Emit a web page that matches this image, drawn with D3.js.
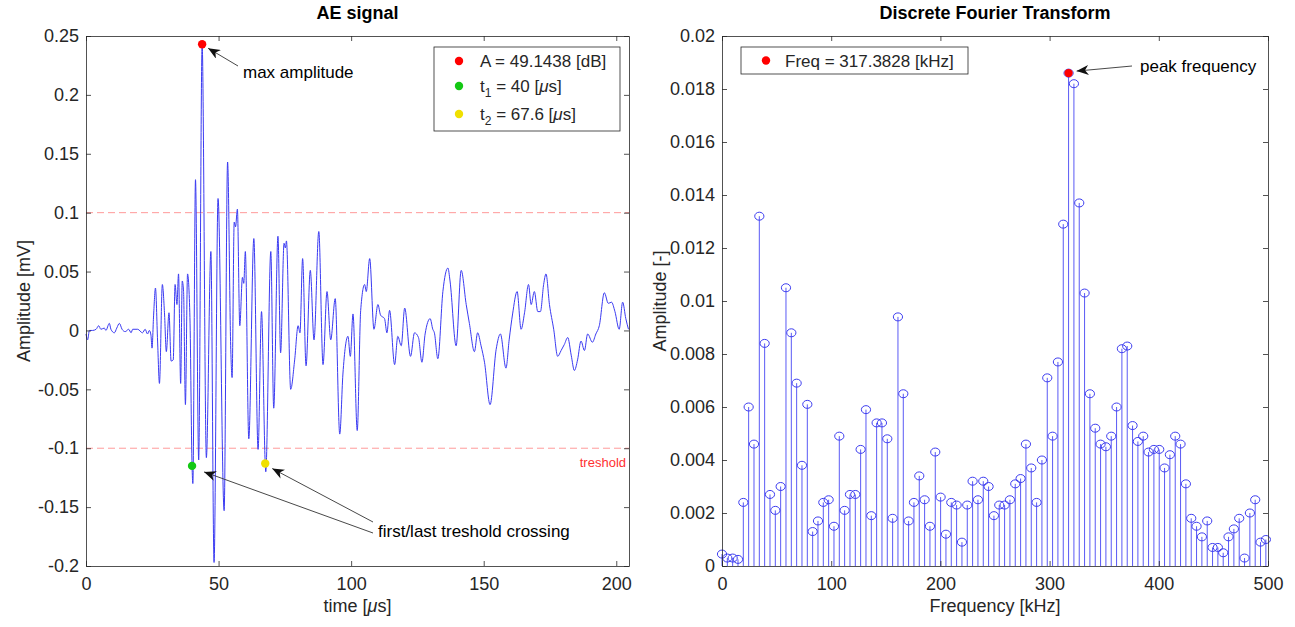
<!DOCTYPE html>
<html>
<head>
<meta charset="utf-8">
<script src="https://d3js.org/d3.v7.min.js"></script>
<style>
  body { margin: 0; background: #fff; }
  svg text { font-family: "Liberation Sans", Arial, Helvetica, sans-serif; fill: #262626; }
</style>
</head>
<body>
<div class="canvas"></div>
<script>
// AE signal (time in us, amplitude in mV)
const aeTime = [0, 0.6, 1.3, 2.5, 3.8, 4.8, 5.6, 6.9, 7.5, 8.8, 9.4, 10.7, 11.6, 12.6, 13.6, 14.8, 16.1, 17, 17.6, 19.5,
  21.3, 22.3, 23.2, 23.9, 24.5, 24.9, 25.5, 26.2, 27, 27.7, 28.8, 29.6, 30.3, 31.3, 32.1, 32.9, 33.6, 34.3, 34.9, 35.7,
  36.3, 36.8, 37.5, 38.3, 39.2, 40, 40.3, 41.3, 42.5, 43.8, 45.4, 47.1, 48.3, 49.8, 52.1, 53.4, 54.6, 55.1, 55.9, 56.4,
  57.1, 58, 59, 59.5, 60.1, 61.4, 63.3, 64.9, 66.2, 67.6, 67.8, 69.7, 70.8, 72.4, 73.4, 74.7, 75.2, 75.6, 77.2, 78.7,
  80, 80.7, 81.7, 83, 84.6, 86, 87.8, 89.4, 90.9, 92.3, 94, 95.7, 96.9, 98.8, 99.7, 100.7, 102.3, 103.6, 105.1, 105.7,
  107, 108.6, 110.1, 111.1, 112.6, 113.5, 114.5, 116.4, 117.6, 118.9, 120.2, 122.4, 123.9, 125.4, 126.7, 127.9, 129.8, 130.8, 131.4, 132.7,
  134.6, 136.5, 137.3, 139.6, 141.5, 143.4, 144.6, 146.5, 147.7, 149, 150.3, 152.4, 154.7, 156.3, 158.4, 159.6, 160.9, 162.6, 164.1, 165.4,
  166.9, 167.9, 169.1, 170.4, 171.4, 172.6, 173.5, 174.8, 176.4, 177.9, 179.2, 180.4, 181.7, 183, 184.2, 185.4, 186.7, 188, 189.2, 191,
  192.3, 193.6, 195.5, 197, 198.2, 199.5, 201.1, 202.4, 203.6, 204.6]
const aeAmp = [-0.003, -0.008, 0, 0, 0.001, 0.004, 0.001, 0.002, 0, 0.006, 0.001, -0.002, 0.002, 0.006, 0.001, -0.001, 0.001, -0.002, 0.001, 0.001,
  -0.002, 0.001, -0.003, 0, -0.004, -0.015, 0.013, 0.036, -0.009, -0.045, 0.039, 0.015, -0.018, 0.015, -0.026, -0.025, 0.039, 0.022, 0.048, -0.045,
  0.042, 0.033, -0.063, 0.048, 0.011, -0.115, -0.13, 0.128, -0.11, 0.243, -0.108, 0.067, -0.197, 0.112, -0.153, 0.143, -0.016, -0.04, 0.092, 0.088,
  0.103, 0.004, 0.045, 0.04, 0.067, -0.092, 0.078, -0.101, 0.016, -0.113, -0.12, 0.067, -0.066, 0.08, -0.019, 0.074, 0.07, 0.076, -0.05, -0.025,
  0.004, -0.002, 0.061, -0.03, 0.051, -0.008, 0.084, -0.029, 0.033, -0.008, 0.027, -0.088, -0.037, -0.005, -0.022, 0.014, -0.085, 0.017, 0.039, 0.033,
  0.061, 0.001, 0.022, 0.013, 0.01, -0.002, 0.017, -0.029, -0.005, -0.013, 0.019, -0.022, -0.002, -0.006, -0.027, -0.003, 0.01, 0.001, -0.002, -0.024,
  0.033, 0.053, 0.042, -0.013, 0.051, 0.022, 0.006, -0.018, -0.002, -0.013, -0.027, -0.063, -0.016, -0.003, -0.032, -0.008, 0.014, 0.033, 0.001, 0.015,
  0.039, 0.022, 0.033, 0.016, 0.016, 0.039, 0.048, 0.022, 0.001, -0.022, -0.017, -0.012, -0.006, -0.021, -0.034, -0.025, -0.009, -0.017, -0.003, -0.01,
  -0.003, 0.004, 0.032, 0.023, 0.024, 0.016, 0.001, 0.024, 0.01, 0.001]

// DFT bins (kHz) and amplitudes
const dftFreq = [0, 4.88, 9.77, 14.65, 19.53, 24.41, 29.3, 34.18, 39.06, 43.95, 48.83, 53.71, 58.59, 63.48, 68.36, 73.24, 78.13, 83.01, 87.89, 92.77,
  97.66, 102.54, 107.42, 112.3, 117.19, 122.07, 126.95, 131.84, 136.72, 141.6, 146.48, 151.37, 156.25, 161.13, 166.02, 170.9, 175.78, 180.66, 185.55, 190.43,
  195.31, 200.2, 205.08, 209.96, 214.84, 219.73, 224.61, 229.49, 234.38, 239.26, 244.14, 249.02, 253.91, 258.79, 263.67, 268.55, 273.44, 278.32, 283.2, 288.09,
  292.97, 297.85, 302.73, 307.62, 312.5, 317.38, 322.27, 327.15, 332.03, 336.91, 341.8, 346.68, 351.56, 356.45, 361.33, 366.21, 371.09, 375.98, 380.86, 385.74,
  390.63, 395.51, 400.39, 405.27, 410.16, 415.04, 419.92, 424.8, 429.69, 434.57, 439.45, 444.34, 449.22, 454.1, 458.98, 463.87, 468.75, 473.63, 478.52, 483.4,
  488.28, 493.16, 498.05]
const dftAmp = [0.00045, 0.0003, 0.0003, 0.00025, 0.0024, 0.006, 0.0046, 0.0132, 0.0084, 0.0027, 0.0021, 0.003, 0.0105, 0.0088, 0.0069, 0.0038, 0.0061, 0.0013, 0.0017, 0.0024,
  0.0025, 0.0015, 0.0049, 0.0021, 0.0027, 0.0027, 0.0044, 0.0059, 0.0019, 0.0054, 0.0054, 0.0048, 0.0018, 0.0094, 0.0065, 0.0017, 0.0024, 0.0034, 0.0025, 0.0015,
  0.0043, 0.0026, 0.0012, 0.0024, 0.0023, 0.0009, 0.0023, 0.0032, 0.0025, 0.0032, 0.003, 0.0019, 0.0023, 0.0023, 0.0025, 0.0031, 0.0033, 0.0046, 0.0037, 0.0024,
  0.004, 0.0071, 0.0049, 0.0077, 0.0129, 0.0186, 0.0182, 0.0137, 0.0103, 0.0065, 0.0052, 0.0046, 0.0045, 0.0049, 0.006, 0.0082, 0.0083, 0.0053, 0.0047, 0.0049,
  0.0043, 0.0044, 0.0044, 0.0037, 0.0042, 0.0049, 0.0046, 0.0031, 0.0018, 0.0015, 0.0011, 0.0017, 0.0007, 0.0007, 0.0005, 0.0011, 0.0014, 0.0018, 0.0003, 0.002,
  0.0025, 0.0009, 0.001]

const aeXTicks = [0, 50, 100, 150, 200]
const aeYTicks = [-0.2, -0.15, -0.1, -0.05, 0, 0.05, 0.1, 0.15, 0.2, 0.25]
const dftXTicks = [0, 100, 200, 300, 400, 500]
const dftYTicks = [0, 0.002, 0.004, 0.006, 0.008, 0.01, 0.012, 0.014, 0.016, 0.018, 0.02]
const threshold = 0.1

const maxPt = [43.8, 0.243]
const t1Pt = [40, -0.115]
const t2Pt = [67.6, -0.113]
const peakPt = [317.38, 0.0186]

const blue = '#3a3af2'
const axisColor = '#262626'

const svg = d3.select('.canvas')
  .append('svg')
    .attr('width', 1295)
    .attr('height', 627)

const defs = svg.append('defs')
defs.append('marker')
    .attr('id', 'arrow')
    .attr('viewBox', '0 0 12 10')
    .attr('refX', 12)
    .attr('refY', 5)
    .attr('markerWidth', 12)
    .attr('markerHeight', 10)
    .attr('markerUnits', 'userSpaceOnUse')
    .attr('orient', 'auto')
  .append('path')
    .attr('d', 'M0,0 L12,5 L0,10 L3.5,5 Z')
    .attr('fill', '#111')

const plotTop = 36, plotBottom = 566

function drawFrame(x, y, xTicks, yTicks) {
  const [x0, x1] = x.range()
  const g = svg.append('g')

  g.append('g')
    .attr('transform', `translate(0, ${plotBottom})`)
    .call(d3.axisBottom(x).tickValues(xTicks).tickSize(-5).tickSizeOuter(0).tickPadding(11).tickFormat(d => String(d)))
  g.append('g')
    .attr('transform', `translate(0, ${plotTop})`)
    .call(d3.axisTop(x).tickValues(xTicks).tickSize(-5).tickSizeOuter(0).tickFormat(''))
  g.append('g')
    .attr('transform', `translate(${x0}, 0)`)
    .call(d3.axisLeft(y).tickValues(yTicks).tickSize(-5).tickSizeOuter(0).tickPadding(7).tickFormat(d => String(d)))
  g.append('g')
    .attr('transform', `translate(${x1}, 0)`)
    .call(d3.axisRight(y).tickValues(yTicks).tickSize(-5).tickSizeOuter(0).tickFormat(''))

  g.selectAll('.domain, .tick line').attr('stroke', axisColor).attr('stroke-width', 0.8)
  g.selectAll('.tick text').attr('font-size', 18).attr('fill', axisColor)
  return g
}

// ---------- left: AE signal ----------
const xAE = d3.scaleLinear().domain([0, 204.8]).range([86, 629])
const yAE = d3.scaleLinear().domain([-0.2, 0.25]).range([plotBottom, plotTop])

;[threshold, -threshold].forEach(v => {
  svg.append('line')
    .attr('x1', xAE(0)).attr('x2', xAE(204.8))
    .attr('y1', yAE(v)).attr('y2', yAE(v))
    .attr('stroke', '#ff9a9a')
    .attr('stroke-width', 1)
    .attr('stroke-dasharray', '7,4')
})

const aeLine = d3.line()
  .x(d => xAE(d[0]))
  .y(d => yAE(d[1]))
  .curve(d3.curveMonotoneX)

svg.append('path')
  .datum(d3.zip(aeTime, aeAmp))
  .attr('d', aeLine)
  .attr('fill', 'none')
  .attr('stroke', blue)
  .attr('stroke-width', 1)
  .attr('stroke-linejoin', 'round')

drawFrame(xAE, yAE, aeXTicks, aeYTicks)

const dots = [[maxPt, '#ff0000'], [t1Pt, '#14c814'], [t2Pt, '#f0e000']]
dots.forEach(([p, c]) => {
  svg.append('circle')
    .attr('cx', xAE(p[0])).attr('cy', yAE(p[1])).attr('r', 4.2)
    .attr('fill', c)
})

svg.append('text')
  .attr('x', 357.5).attr('y', 19)
  .attr('text-anchor', 'middle')
  .attr('font-size', 18).attr('font-weight', 'bold')
  .style('fill', '#000')
  .text('AE signal')

const xl = svg.append('text')
  .attr('x', 357.5).attr('y', 612)
  .attr('text-anchor', 'middle')
  .attr('font-size', 18)
xl.append('tspan').text('time [')
xl.append('tspan').attr('font-style', 'italic').text('\u03bc')
xl.append('tspan').text('s]')

svg.append('text')
  .attr('transform', `translate(30, ${(plotTop + plotBottom) / 2}) rotate(-90)`)
  .attr('text-anchor', 'middle')
  .attr('font-size', 18)
  .text('Amplitude [mV]')

svg.append('text')
  .attr('x', 626).attr('y', 467)
  .attr('text-anchor', 'end')
  .attr('font-size', 13)
  .style('fill', '#ff3030')
  .text('treshold')

// annotations
svg.append('line')
  .attr('x1', 238).attr('y1', 66).attr('x2', xAE(maxPt[0]) + 6).attr('y2', yAE(maxPt[1]) + 4)
  .attr('stroke', '#333').attr('stroke-width', 0.9)
  .attr('marker-end', 'url(#arrow)')
svg.append('text')
  .attr('x', 243).attr('y', 78)
  .attr('font-size', 17).style('fill', '#000')
  .text('max amplitude')

svg.append('line')
  .attr('x1', 373).attr('y1', 533).attr('x2', xAE(t1Pt[0]) + 12).attr('y2', yAE(t1Pt[1]) + 6)
  .attr('stroke', '#333').attr('stroke-width', 0.9)
  .attr('marker-end', 'url(#arrow)')
svg.append('line')
  .attr('x1', 373).attr('y1', 522).attr('x2', xAE(t2Pt[0]) + 7).attr('y2', yAE(t2Pt[1]) + 5)
  .attr('stroke', '#333').attr('stroke-width', 0.9)
  .attr('marker-end', 'url(#arrow)')
svg.append('text')
  .attr('x', 378).attr('y', 537)
  .attr('font-size', 17).style('fill', '#000')
  .text('first/last treshold crossing')

// legend
const lg = svg.append('g')
lg.append('rect')
  .attr('x', 434).attr('y', 47).attr('width', 186).attr('height', 84)
  .attr('fill', '#fff').attr('stroke', axisColor).attr('stroke-width', 0.8)
const legendRows = [
  { c: '#ff0000', y: 61, parts: [['A = 49.1438 [dB]', null]] },
  { c: '#14c814', y: 86, parts: [['t', null], ['1', 'sub'], [' = 40 [', 'back'], ['\u03bc', 'it'], ['s]', null]] },
  { c: '#f0e000', y: 114, parts: [['t', null], ['2', 'sub'], [' = 67.6 [', 'back'], ['\u03bc', 'it'], ['s]', null]] }
]
legendRows.forEach(r => {
  lg.append('circle').attr('cx', 459).attr('cy', r.y).attr('r', 4.2).attr('fill', r.c)
  const t = lg.append('text').attr('x', 480).attr('y', r.y + 6).attr('font-size', 17)
  r.parts.forEach(([s, k]) => {
    const sp = t.append('tspan').text(s)
    if (k === 'sub') sp.attr('font-size', 12).attr('dy', 5)
    if (k === 'back') sp.attr('dy', -5)
    if (k === 'it') sp.attr('font-style', 'italic')
  })
})

// ---------- right: DFT ----------
const xF = d3.scaleLinear().domain([0, 500]).range([722, 1268])
const yF = d3.scaleLinear().domain([0, 0.02]).range([plotBottom, plotTop])

const stemData = d3.zip(dftFreq, dftAmp)
const stems = svg.append('g')
stems.selectAll('line')
  .data(stemData)
  .enter()
  .append('line')
    .attr('x1', d => xF(d[0])).attr('x2', d => xF(d[0]))
    .attr('y1', yF(0)).attr('y2', d => yF(d[1]))
    .attr('stroke', '#5a5af5')
    .attr('stroke-width', 1)
stems.selectAll('ellipse')
  .data(stemData)
  .enter()
  .append('ellipse')
    .attr('cx', d => xF(d[0])).attr('cy', d => yF(d[1]))
    .attr('rx', 4.6).attr('ry', 4)
    .attr('fill', 'none')
    .attr('stroke', '#3c3cf0')
    .attr('stroke-width', 1)

drawFrame(xF, yF, dftXTicks, dftYTicks)

svg.append('circle')
  .attr('cx', xF(peakPt[0])).attr('cy', yF(peakPt[1])).attr('r', 4.2)
  .attr('fill', '#ff0000')

svg.append('text')
  .attr('x', 995).attr('y', 19)
  .attr('text-anchor', 'middle')
  .attr('font-size', 18).attr('font-weight', 'bold')
  .style('fill', '#000')
  .text('Discrete Fourier Transform')

svg.append('text')
  .attr('x', 995).attr('y', 612)
  .attr('text-anchor', 'middle')
  .attr('font-size', 18)
  .text('Frequency [kHz]')

svg.append('text')
  .attr('transform', `translate(666, ${(plotTop + plotBottom) / 2}) rotate(-90)`)
  .attr('text-anchor', 'middle')
  .attr('font-size', 18)
  .text('Amplitude [-]')

svg.append('line')
  .attr('x1', 1132).attr('y1', 66).attr('x2', xF(peakPt[0]) + 8).attr('y2', yF(peakPt[1]) - 2)
  .attr('stroke', '#333').attr('stroke-width', 0.9)
  .attr('marker-end', 'url(#arrow)')
svg.append('text')
  .attr('x', 1140).attr('y', 72)
  .attr('font-size', 17).style('fill', '#000')
  .text('peak frequency')

const rg = svg.append('g')
rg.append('rect')
  .attr('x', 741).attr('y', 47).attr('width', 227).attr('height', 27)
  .attr('fill', '#fff').attr('stroke', axisColor).attr('stroke-width', 0.8)
rg.append('circle').attr('cx', 766).attr('cy', 60.5).attr('r', 4.2).attr('fill', '#ff0000')
rg.append('text').attr('x', 785).attr('y', 66.5).attr('font-size', 17).text('Freq = 317.3828 [kHz]')
</script>
</body>
</html>
